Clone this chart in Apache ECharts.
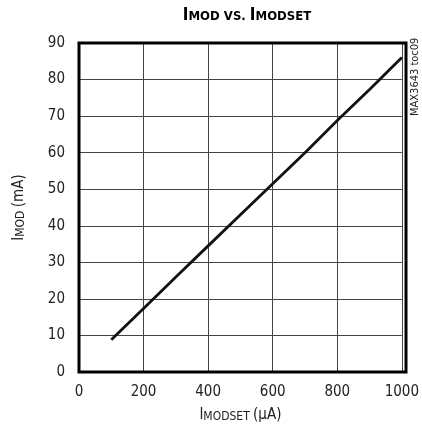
<!DOCTYPE html>
<html><head><meta charset="utf-8">
<script src="https://cdn.jsdelivr.net/npm/echarts@6/dist/echarts.min.js"></script>
<style>html,body{margin:0;padding:0;background:#fff}#c{width:422px;height:435px}</style>
</head><body><div id="c"></div>
<script>
const xValues = [100, 200, 300, 400, 500, 600, 700, 800, 900, 1000];
const imodValues = [8.8, 17.4, 26.0, 34.5, 43.0, 51.5, 60.0, 68.8, 77.3, 86.0];
const xTicks = [0, 200, 400, 600, 800, 1000];
const yTicks = [0, 10, 20, 30, 40, 50, 60, 70, 80, 90];

const F = '"DejaVu Sans Condensed", "Liberation Sans Narrow", "Liberation Sans", Arial, sans-serif';
const chart = echarts.init(document.getElementById('c'));
chart.setOption({
  animation: false,
  title: {
    text: '{b|I}{s|MOD VS. }{b|I}{s|MODSET}',
    left: 242, textAlign: 'center', top: 2,
    textStyle: {
      rich: {
        b: {fontFamily: F, fontWeight: 'bold', fontSize: 17, color: '#000'},
        s: {fontFamily: F, fontWeight: 'bold', fontSize: 13, color: '#000', padding:[3,0,0,0]}
      }
    }
  },
  grid: {left: 79, right: 16, top: 43, bottom: 63},
  xAxis: {
    type: 'value', min: 0, max: 1000, interval: 200,
    name: '{b|I}{s|MODSET} {n|(μA)}', nameLocation: 'middle', nameGap: 36,
    nameTextStyle: {
      rich: {
        b: {fontFamily: F, fontSize: 15, color: '#222'},
        s: {fontFamily: F, fontSize: 12, color: '#222', padding:[2,0,0,0]},
        n: {fontFamily: F, fontSize: 15, color: '#222'}
      }
    },
    axisLine: {show: false},
    axisTick: {show: false},
    axisLabel: {fontFamily: F, fontSize: 15, color: '#222', margin: 13,
      formatter: v => xTicks.includes(v) ? String(v) : ''},
    splitLine: {show: true, lineStyle: {color: '#444', width: 1}}
  },
  yAxis: {
    type: 'value', min: 0, max: 90, interval: 10,
    name: '{b|I}{s|MOD} {n|(mA)}', nameLocation: 'middle', nameGap: 52, nameRotate: 90,
    nameTextStyle: {
      rich: {
        b: {fontFamily: F, fontSize: 15, color: '#222'},
        s: {fontFamily: F, fontSize: 12, color: '#222', padding:[2,0,0,0]},
        n: {fontFamily: F, fontSize: 15, color: '#222'}
      }
    },
    axisLine: {show: false},
    axisTick: {show: false},
    axisLabel: {fontFamily: F, fontSize: 15, color: '#222', margin: 14,
      formatter: v => yTicks.includes(v) ? String(v) : ''},
    splitLine: {show: true, lineStyle: {color: '#444', width: 1}}
  },
  graphic: [
    {type: 'rect', shape: {x: 79, y: 43, width: 327, height: 329}, z: 100,
      style: {fill: 'none', stroke: '#000', lineWidth: 3}},
    {type: 'text', x: 410, y: 116, rotation: Math.PI/2, z: 100,
      style: {text: 'MAX3643 toc09', fontFamily: F, fontSize: 11, fill: '#222',
        textAlign: 'left', textVerticalAlign: 'top'}}
  ],
  series: [{
    type: 'line',
    data: xValues.map((x, i) => [x, imodValues[i]]),
    showSymbol: false,
    lineStyle: {color: '#111', width: 2.8},
    z: 5
  }]
});
</script></body></html>
